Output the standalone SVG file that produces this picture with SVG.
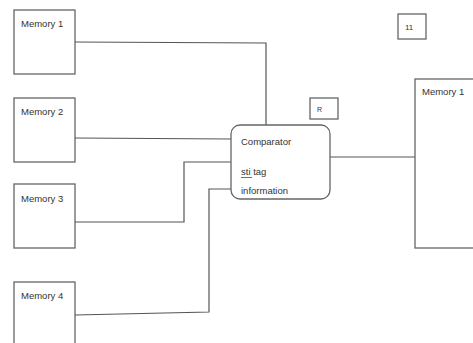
<svg xmlns="http://www.w3.org/2000/svg" width="473" height="343" viewBox="0 0 473 343">
<style>
.box{fill:#fff;stroke:#666;stroke-width:1.3}
.t{font-family:"Liberation Sans",Arial,sans-serif;font-size:9.5px;fill:#333}
.c{fill:none;stroke:#555;stroke-width:1.2}
</style>
<rect width="473" height="343" fill="#fff"/>
<g id="connectors">
<polyline class="c" points="75,42 266,43 266,125"/>
<polyline class="c" points="75,138 231,139"/>
<polyline class="c" points="75,222 184,222 184,162 231,162"/>
<polyline class="c" points="75,315 209,312 209,189 231,189"/>
<polyline class="c" points="330,157 415,157"/>
</g>
<g id="mem1"><rect class="box" x="14" y="10" width="61" height="64"/><text class="t" x="21" y="27">Memory 1</text></g>
<g id="mem2"><rect class="box" x="14" y="98" width="61" height="64"/><text class="t" x="21" y="115">Memory 2</text></g>
<g id="mem3"><rect class="box" x="14" y="184" width="61" height="64"/><text class="t" x="21" y="202">Memory 3</text></g>
<g id="mem4"><rect class="box" x="14" y="282" width="61" height="70"/><text class="t" x="21" y="299">Memory 4</text></g>
<g id="comparator"><rect class="box" x="231" y="125" width="99" height="74" rx="9"/>
<text class="t" x="241" y="145">Comparator</text>
<text class="t" x="241" y="175">sti tag</text>
<line x1="241" y1="177.5" x2="252" y2="177.5" stroke="#4a6ee0" stroke-width="1"/>
<text class="t" x="241" y="194">information</text></g>
<g id="r"><rect class="box" x="310" y="98" width="28" height="21"/><text class="t" x="317" y="112" style="font-size:7px">R</text></g>
<g id="n11"><rect class="box" x="398" y="14" width="28" height="25"/><text class="t" x="405" y="30" style="font-size:8px">11</text></g>
<g id="memR"><rect class="box" x="415" y="79" width="70" height="169"/><text class="t" x="422" y="95">Memory 1</text></g>
</svg>
